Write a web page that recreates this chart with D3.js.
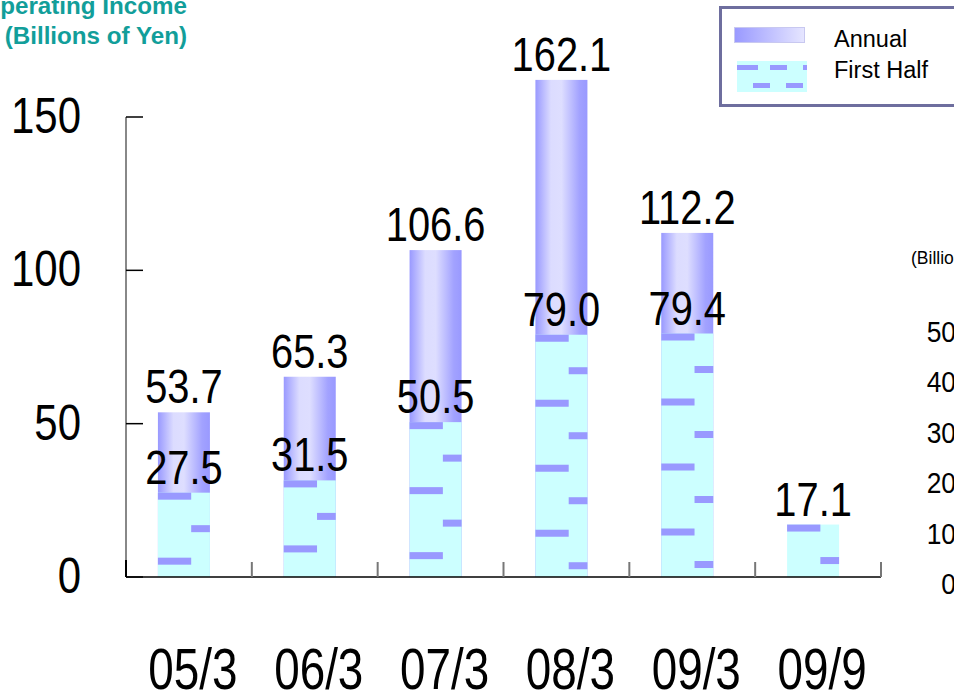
<!DOCTYPE html>
<html>
<head>
<meta charset="utf-8">
<script src="https://cdn.jsdelivr.net/npm/d3@7/dist/d3.min.js"></script>
<style>
  html, body { margin: 0; padding: 0; background: #fff; overflow: hidden; }
  svg { display: block; }
</style>
</head>
<body>
<svg id="chart" width="954" height="691"></svg>
<script>
// ---- data ----
const categories = ["05/3", "06/3", "07/3", "08/3", "09/3", "09/9"];
const annualValues = [53.7, 65.3, 106.6, 162.1, 112.2, null];
const firstHalfValues = [27.5, 31.5, 50.5, 79.0, 79.4, 17.1];
const yTicks = [0, 50, 100, 150];
const seriesNames = ["Annual", "First Half"];
const titleLines = ["Operating Income", "(Billions of Yen)"];
// partial neighbouring chart (cut off at right edge)
const rightTicks = [0, 10, 20, 30, 40, 50];
const rightTitle = "(Billions of Yen)";

const svg = d3.select("#chart");
const FONT = "'Liberation Sans', Arial, sans-serif";

// ---- scales ----
const x = d3.scaleBand().domain(categories).range([126, 881]);
const y = d3.scaleLinear().domain([0, 150]).range([577, 117]);
const barW = 52, barOff = -5, labOff = 4;
const bx = c => x(c) + x.bandwidth() / 2 + barOff - barW / 2;

// ---- defs ----
const defs = svg.append("defs");
const g1 = defs.append("linearGradient").attr("id", "annGrad")
  .attr("x1", "0").attr("x2", "1").attr("y1", "0").attr("y2", "0");
[[0, "#9999FF"], [0.3, "#DCDCFF"], [0.5, "#DEDEFF"], [0.85, "#A2A2FF"], [1, "#9999FF"]]
  .forEach(([o, c]) => g1.append("stop").attr("offset", o).attr("stop-color", c));
const g2 = defs.append("linearGradient").attr("id", "legGrad")
  .attr("x1", "0").attr("x2", "1").attr("y1", "0").attr("y2", "0");
[[0, "#9999FF"], [1, "#E6E6FF"]]
  .forEach(([o, c]) => g2.append("stop").attr("offset", o).attr("stop-color", c));

// ---- title ----
svg.append("text")
  .attr("x", 187).attr("y", 14)
  .attr("text-anchor", "end")
  .attr("font-family", FONT).attr("font-weight", "bold").attr("font-size", 24.2)
  .attr("fill", "#129E9A")
  .selectAll("tspan").data(titleLines).join("tspan")
  .attr("x", 187).attr("dy", (d, i) => i === 0 ? 0 : 30)
  .text(d => d);

// ---- axes ----
svg.append("line").attr("x1", 126).attr("x2", 126)
  .attr("y1", y(150)).attr("y2", y(0))
  .attr("stroke", "#888").attr("stroke-width", 2);

svg.selectAll(".ytick").data(yTicks).join("line")
  .attr("x1", 126).attr("x2", 143)
  .attr("y1", d => y(d)).attr("y2", d => y(d))
  .attr("stroke", "#000").attr("stroke-width", 1.5);

svg.selectAll(".ylab").data(yTicks).join("text")
  .attr("transform", d => `translate(81,${y(d) + 16}) scale(0.84,1)`)
  .attr("text-anchor", "end")
  .attr("font-family", FONT).attr("font-size", 50)
  .attr("fill", "#000")
  .text(d => d);

// ---- bars ----
const annData = categories.map((c, i) => ({ c, v: annualValues[i] })).filter(d => d.v != null);
svg.selectAll(".ann").data(annData).join("rect")
  .attr("x", d => bx(d.c)).attr("width", barW)
  .attr("y", d => y(d.v)).attr("height", d => y(0) - y(d.v))
  .attr("fill", "url(#annGrad)");

const fhData = categories.map((c, i) => ({ c, v: firstHalfValues[i] }));
const fhG = svg.selectAll(".fh").data(fhData).join("g");
fhG.append("rect")
  .attr("x", d => bx(d.c)).attr("width", barW)
  .attr("y", d => y(d.v)).attr("height", d => y(0) - y(d.v))
  .attr("fill", "#CCFFFF");
// dash decoration inside each first-half bar
const period = 65, dashH = 7, split = 0.64;
fhG.each(function (d) {
  const g = d3.select(this);
  const top = y(d.v), bot = y(0), left = bx(d.c);
  for (let yy = top; yy < bot; yy += period) {
    g.append("rect").attr("x", left).attr("y", yy)
      .attr("width", barW * split).attr("height", Math.min(dashH, bot - yy))
      .attr("fill", "#9999FF");
    const y2 = yy + period / 2;
    if (y2 < bot) {
      g.append("rect").attr("x", left + barW * split).attr("y", y2)
        .attr("width", barW * (1 - split)).attr("height", Math.min(dashH, bot - y2))
        .attr("fill", "#9999FF");
    }
  }
});

// x baseline & category ticks
svg.append("line").attr("x1", 126).attr("x2", 881)
  .attr("y1", y(0)).attr("y2", y(0))
  .attr("stroke", "#000").attr("stroke-width", 1.5);
svg.append("line").attr("x1", 126).attr("x2", 126)
  .attr("y1", y(0) - 17).attr("y2", y(0))
  .attr("stroke", "#000").attr("stroke-width", 2);
svg.selectAll(".xtick").data(categories).join("line")
  .attr("x1", d => x(d) + x.bandwidth()).attr("x2", d => x(d) + x.bandwidth())
  .attr("y1", y(0) - 15).attr("y2", y(0))
  .attr("stroke", "#777").attr("stroke-width", 2);

// x labels
svg.selectAll(".xlab").data(categories).join("text")
  .attr("transform", d => `translate(${x(d) + x.bandwidth() / 2 + labOff},689) scale(0.79,1)`)
  .attr("text-anchor", "middle")
  .attr("font-family", FONT).attr("font-size", 58)
  .attr("fill", "#000")
  .text(d => d);

// value labels
const valLab = (data) => svg.selectAll(null).data(data).join("text")
  .attr("transform", d => `translate(${bx(d.c) + barW / 2},${y(d.v) - 9}) scale(0.83,1)`)
  .attr("text-anchor", "middle")
  .attr("font-family", FONT).attr("font-size", 48)
  .attr("fill", "#000")
  .text(d => d.v.toFixed(1));
valLab(annData);
valLab(fhData);

// ---- legend ----
svg.append("rect").attr("x", 720.5).attr("y", 7.5).attr("width", 260).attr("height", 98)
  .attr("fill", "#fff").attr("stroke", "#6E6E9E").attr("stroke-width", 3);
svg.append("rect").attr("x", 734.5).attr("y", 27.5).attr("width", 70).attr("height", 15)
  .attr("fill", "url(#legGrad)").attr("stroke", "#C8C8F0").attr("stroke-width", 1);
const lg = svg.append("g");
lg.append("rect").attr("x", 737).attr("y", 61).attr("width", 70).attr("height", 31).attr("fill", "#CCFFFF");
[[0, 65, 21], [33, 65, 17], [66, 65, 4], [16, 83, 17], [49, 83, 17]].forEach(([dx, yy, w]) =>
  lg.append("rect").attr("x", 737 + dx).attr("y", yy).attr("width", w).attr("height", 5).attr("fill", "#9999FF"));
svg.selectAll(".legtxt").data(seriesNames).join("text")
  .attr("x", 834).attr("y", (d, i) => 47 + i * 31)
  .attr("font-family", FONT).attr("font-size", 23.5)
  .attr("fill", "#000")
  .text(d => d);

// ---- partial neighbouring chart at right edge ----
const yR = d3.scaleLinear().domain([0, 50]).range([583, 331]);
svg.append("text").attr("x", 911).attr("y", 264)
  .attr("font-family", FONT).attr("font-size", 17.5).attr("fill", "#000")
  .text(rightTitle);
svg.selectAll(".rlab").data(rightTicks).join("text")
  .attr("transform", d => `translate(956,${yR(d) + 11}) scale(0.88,1)`)
  .attr("text-anchor", "end")
  .attr("font-family", FONT).attr("font-size", 30)
  .attr("fill", "#000")
  .text(d => d);
</script>
</body>
</html>
